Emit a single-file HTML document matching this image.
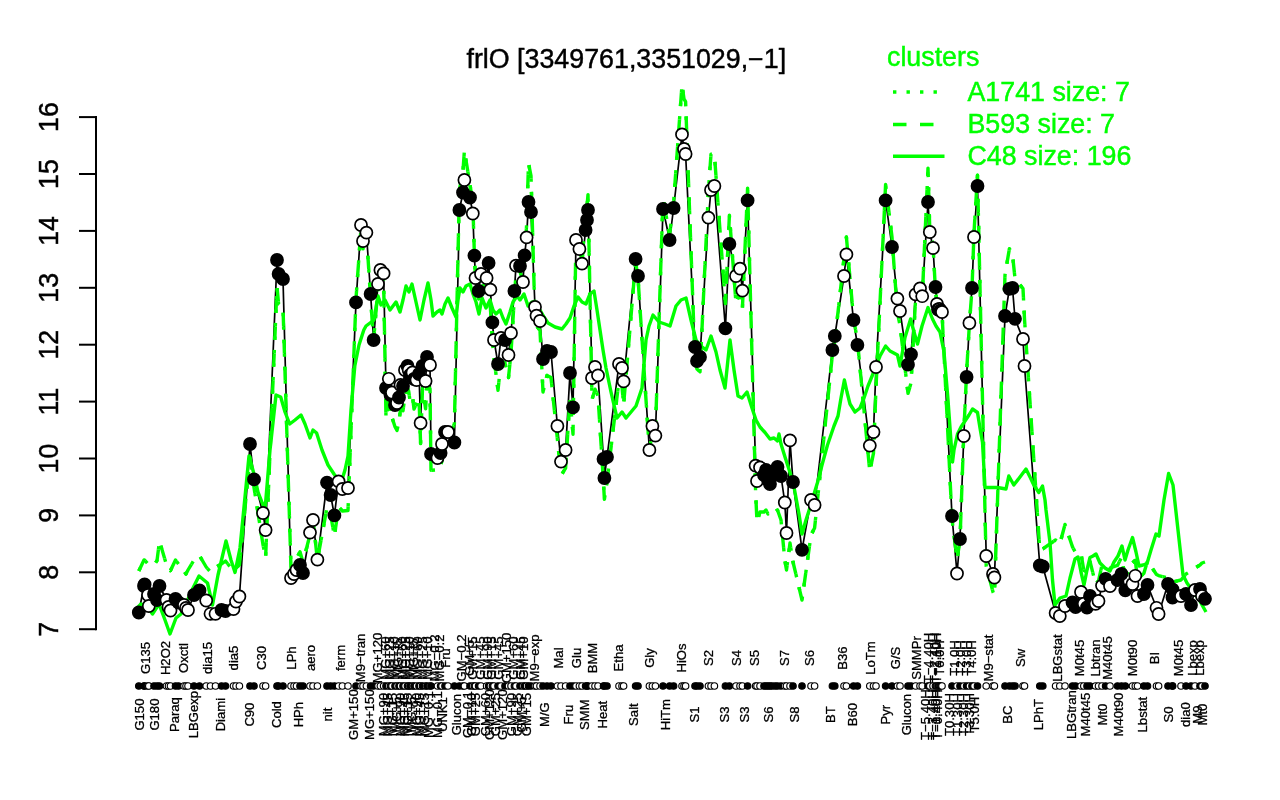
<!DOCTYPE html>
<html><head><meta charset="utf-8"><title>frlO</title>
<style>html,body{margin:0;padding:0;background:#fff;overflow:hidden}</style></head>
<body>
<svg width="1280" height="800" viewBox="0 0 1280 800" style="display:block;font-family:'Liberation Sans',sans-serif">
<rect width="1280" height="800" fill="#fff"/>
<polyline fill="none" stroke="#000" stroke-width="1.7" stroke-linejoin="round" points="138.8,612.5 144.0,586.0 144.6,584.5 148.0,595.0 148.8,606.0 154.0,594.0 157.0,600.0 159.5,586.0 166.5,600.0 168.5,607.0 170.5,610.5 175.5,599.0 178.5,602.5 184.0,605.0 186.0,608.0 188.0,610.0 194.0,595.0 199.5,590.5 206.2,600.5 210.5,613.8 215.5,613.8 221.5,610.0 225.5,611.0 233.5,609.0 236.0,601.5 239.4,596.5 250.0,444.0 254.0,479.4 263.0,513.0 265.6,530.0 277.0,260.0 278.6,274.0 283.0,279.0 291.0,578.0 294.0,574.0 296.5,570.0 300.0,565.0 303.0,573.0 310.0,532.6 313.0,520.0 317.4,559.6 327.0,482.6 330.6,495.0 334.4,515.4 338.6,481.4 342.4,489.0 348.0,488.0 356.0,302.4 361.0,225.0 363.0,241.0 366.4,232.6 370.6,294.0 373.6,340.0 378.0,284.0 380.4,270.0 383.6,273.4 386.0,388.0 388.8,378.8 390.5,395.0 392.0,392.5 395.0,405.0 397.0,403.0 399.0,397.5 400.5,385.0 403.0,386.0 405.0,370.0 407.5,366.0 408.7,370.0 410.0,375.0 412.5,372.5 414.0,379.0 416.5,380.0 419.0,374.0 420.6,423.0 422.5,366.0 425.6,381.0 427.0,357.0 430.0,365.0 431.0,454.0 437.5,458.0 440.6,453.0 442.0,444.0 445.0,432.0 448.0,432.0 454.4,442.5 459.4,210.0 463.0,192.5 464.4,180.0 470.0,197.5 472.8,213.5 474.4,255.6 475.5,278.0 478.6,291.0 481.0,274.0 486.6,278.0 488.6,263.0 490.4,289.6 492.4,322.4 494.0,340.0 498.0,364.0 501.0,338.0 505.0,340.0 508.5,355.0 511.0,333.0 514.4,291.0 516.0,265.6 520.0,266.0 523.0,282.0 524.6,255.4 526.6,237.4 528.5,202.0 531.0,212.0 535.0,307.0 536.5,315.6 540.0,321.0 543.0,359.0 547.0,351.0 551.0,352.0 557.4,426.0 561.0,461.6 565.6,450.0 570.0,373.0 573.0,407.4 576.0,240.0 579.4,249.0 582.0,263.6 585.6,230.0 587.0,220.0 588.0,210.0 592.0,378.0 595.0,367.0 598.0,375.4 603.5,459.0 604.4,478.0 607.0,457.0 619.0,364.0 622.0,368.0 623.6,381.4 635.6,259.0 638.0,276.0 649.4,450.0 652.4,426.0 655.4,435.6 663.0,209.0 669.6,240.0 673.6,208.0 682.0,134.4 684.0,149.0 685.6,154.0 695.0,347.0 697.0,361.0 700.0,357.0 708.4,217.6 711.0,190.0 714.4,186.0 725.4,328.4 729.4,244.0 736.0,276.0 740.0,268.6 742.4,290.6 747.6,200.4 755.6,465.6 757.0,481.0 760.0,467.5 764.0,475.0 766.0,470.0 768.0,480.0 770.0,484.0 772.0,476.0 775.0,472.0 777.5,467.0 781.0,476.0 784.8,502.5 786.5,533.0 790.0,440.4 793.0,482.0 802.0,549.8 811.0,500.0 814.6,505.0 832.4,350.0 834.8,336.0 844.0,276.0 846.4,254.4 853.5,320.0 857.4,345.0 869.8,445.6 873.5,432.0 876.0,367.0 885.6,200.4 892.0,247.0 897.4,298.6 900.0,311.0 908.0,364.7 911.0,354.5 915.6,294.4 920.0,288.5 922.2,296.2 928.0,202.0 929.8,232.0 933.0,248.0 935.5,287.0 937.0,304.0 938.0,309.5 939.5,309.0 940.5,310.5 942.0,312.0 952.0,516.0 957.0,573.5 960.0,539.0 963.8,436.0 966.6,377.0 969.4,323.0 972.0,288.0 974.0,237.0 977.5,186.0 986.2,556.0 993.0,574.0 994.4,577.5 1005.0,316.0 1009.4,288.8 1012.5,288.0 1015.0,318.8 1023.0,339.0 1024.5,366.0 1039.8,565.5 1042.8,566.5 1055.6,613.0 1059.8,616.0 1065.0,606.0 1072.5,602.5 1075.6,607.0 1081.0,592.0 1083.8,603.8 1087.0,607.5 1090.0,596.0 1095.6,603.8 1098.5,601.0 1102.0,585.6 1105.6,578.8 1110.0,586.0 1117.5,580.0 1121.5,573.8 1125.3,590.3 1132.5,584.0 1135.3,575.8 1137.5,596.0 1143.9,594.0 1147.5,585.0 1156.5,607.8 1158.6,614.0 1168.0,584.0 1172.5,589.5 1172.5,597.5 1181.0,596.0 1186.0,594.0 1191.0,605.0 1195.0,590.0 1200.0,589.0 1202.0,596.0 1205.0,598.8"/>
<polyline fill="none" stroke="#00ff00" stroke-width="3.4" stroke-linejoin="round" stroke-dasharray="3.4 10.1" points="138.8,571.0 144.0,560.0 144.6,560.0 148.0,564.0 148.8,564.0 154.0,565.0 157.0,560.6 159.5,541.0 166.5,565.0 168.5,567.0 170.5,570.6 175.5,560.0 178.5,564.0 184.0,571.0 186.0,574.0 188.0,570.0 194.0,560.0 199.5,555.6 206.2,567.0 210.5,572.0 215.5,567.5 221.5,564.0 225.5,561.0 233.5,571.0 236.0,568.0 239.4,565.0 250.0,457.3 254.0,487.5 263.0,544.7 265.6,557.6 277.0,287.0 278.6,303.8 283.0,307.0 291.0,568.3 294.0,564.3 296.5,558.8 300.0,551.8 303.0,562.4 310.0,534.5 313.0,519.1 317.4,560.1 327.0,507.4 330.6,514.7 334.4,536.1 338.6,506.8 342.4,511.0 348.0,510.5 356.0,298.6 361.0,228.3 363.0,248.9 366.4,233.4 370.6,297.9 373.6,340.8 378.0,287.1 380.4,279.3 383.6,279.2 386.0,418.3 388.8,402.6 390.5,417.9 392.0,417.4 395.0,426.8 397.0,430.5 399.0,421.1 400.5,409.6 403.0,410.8 405.0,396.1 407.5,388.1 408.7,391.1 410.0,400.9 412.5,396.4 414.0,409.1 416.5,403.5 419.0,398.1 420.6,443.6 422.5,388.3 425.6,408.8 427.0,383.8 430.0,388.9 431.0,470.3 437.5,469.8 440.6,467.8 442.0,459.3 445.0,447.9 448.0,440.6 454.4,423.5 459.4,189.8 463.0,170.9 464.4,150.6 470.0,184.7 472.8,202.6 474.4,255.1 475.5,279.8 478.6,299.1 481.0,281.7 486.6,291.6 488.6,275.2 490.4,308.1 492.4,341.2 494.0,358.1 498.0,390.3 501.0,361.2 505.0,362.7 508.5,377.6 511.0,353.1 514.4,295.8 516.0,273.7 520.0,271.1 523.0,282.8 524.6,256.7 526.6,225.3 528.5,163.2 531.0,175.9 535.0,318.2 536.5,325.8 540.0,330.6 543.0,392.0 547.0,375.4 551.0,377.6 557.4,439.2 561.0,475.6 565.6,468.2 570.0,396.8 573.0,434.2 576.0,232.9 579.4,247.8 582.0,262.3 585.6,215.9 587.0,206.4 588.0,194.6 592.0,399.7 595.0,389.2 598.0,396.0 603.5,483.0 604.4,499.3 607.0,481.8 619.0,380.1 622.0,386.7 623.6,404.9 635.6,261.5 638.0,277.6 649.4,451.4 652.4,429.9 655.4,432.0 663.0,198.3 669.6,234.7 673.6,202.5 682.0,84.6 684.0,99.0 685.6,101.6 695.0,360.8 697.0,369.0 700.0,371.8 708.4,191.2 711.0,154.1 714.4,154.4 725.4,303.6 729.4,215.1 736.0,303.6 740.0,291.1 742.4,308.5 747.6,188.1 755.6,492.0 757.0,522.0 760.0,512.0 764.0,512.0 766.0,510.0 768.0,514.0 770.0,512.0 772.0,510.0 775.0,512.0 777.5,510.0 781.0,520.0 784.8,560.0 786.5,570.0 790.0,543.0 793.0,562.0 802.0,600.0 811.0,535.0 814.6,528.0 832.4,354.8 834.8,340.8 844.0,258.3 846.4,237.0 853.5,318.0 857.4,340.3 869.8,471.7 873.5,453.1 876.0,387.6 885.6,184.4 892.0,237.0 897.4,312.8 900.0,325.2 908.0,393.4 911.0,383.1 915.6,298.8 920.0,290.1 922.2,298.5 928.0,168.1 929.8,230.4 933.0,244.9 935.5,291.3 937.0,302.4 938.0,305.3 939.5,306.1 940.5,307.9 942.0,312.2 952.0,519.3 957.0,559.2 960.0,540.7 963.8,432.9 966.6,372.2 969.4,324.1 972.0,289.0 974.0,232.4 977.5,175.2 986.2,566.0 993.0,592.0 994.4,595.0 1005.0,274.9 1009.4,248.6 1012.5,254.6 1015.0,278.4 1023.0,288.6 1024.5,318.9 1039.8,550.0 1042.8,548.9 1055.6,540.0 1059.8,544.2 1065.0,524.4 1072.5,546.9 1075.6,552.7 1081.0,553.4 1083.8,570.3 1087.0,572.4 1090.0,561.4 1095.6,583.9 1098.5,580.8 1102.0,565.0 1105.6,564.3 1110.0,568.0 1117.5,565.4 1121.5,557.5 1125.3,577.0 1132.5,562.7 1135.3,560.2 1137.5,579.4 1143.9,573.2 1147.5,560.9 1156.5,574.5 1158.6,575.6 1168.0,578.0 1172.5,582.0 1172.5,582.0 1181.0,580.0 1186.0,574.0 1191.0,571.0 1195.0,568.0 1200.0,565.0 1202.0,563.0 1205.0,562.0"/>
<polyline fill="none" stroke="#00ff00" stroke-width="3.4" stroke-linejoin="round" stroke-dasharray="13.5 13.5" points="138.8,571.0 144.0,560.0 144.6,560.0 148.0,564.0 148.8,564.0 154.0,565.0 157.0,560.6 159.5,541.0 166.5,565.0 168.5,567.0 170.5,570.6 175.5,560.0 178.5,564.0 184.0,571.0 186.0,574.0 188.0,570.0 194.0,560.0 199.5,555.6 206.2,567.0 210.5,572.0 215.5,567.5 221.5,564.0 225.5,561.0 233.5,571.0 236.0,568.0 239.4,565.0 250.0,457.3 254.0,487.5 263.0,544.7 265.6,557.6 277.0,287.0 278.6,303.8 283.0,307.0 291.0,568.3 294.0,564.3 296.5,558.8 300.0,551.8 303.0,562.4 310.0,534.5 313.0,519.1 317.4,560.1 327.0,507.4 330.6,514.7 334.4,536.1 338.6,506.8 342.4,511.0 348.0,510.5 356.0,298.6 361.0,228.3 363.0,248.9 366.4,233.4 370.6,297.9 373.6,340.8 378.0,287.1 380.4,279.3 383.6,279.2 386.0,418.3 388.8,402.6 390.5,417.9 392.0,417.4 395.0,426.8 397.0,430.5 399.0,421.1 400.5,409.6 403.0,410.8 405.0,396.1 407.5,388.1 408.7,391.1 410.0,400.9 412.5,396.4 414.0,409.1 416.5,403.5 419.0,398.1 420.6,443.6 422.5,388.3 425.6,408.8 427.0,383.8 430.0,388.9 431.0,470.3 437.5,469.8 440.6,467.8 442.0,459.3 445.0,447.9 448.0,440.6 454.4,423.5 459.4,189.8 463.0,170.9 464.4,150.6 470.0,184.7 472.8,202.6 474.4,255.1 475.5,279.8 478.6,299.1 481.0,281.7 486.6,291.6 488.6,275.2 490.4,308.1 492.4,341.2 494.0,358.1 498.0,390.3 501.0,361.2 505.0,362.7 508.5,377.6 511.0,353.1 514.4,295.8 516.0,273.7 520.0,271.1 523.0,282.8 524.6,256.7 526.6,225.3 528.5,163.2 531.0,175.9 535.0,318.2 536.5,325.8 540.0,330.6 543.0,392.0 547.0,375.4 551.0,377.6 557.4,439.2 561.0,475.6 565.6,468.2 570.0,396.8 573.0,434.2 576.0,232.9 579.4,247.8 582.0,262.3 585.6,215.9 587.0,206.4 588.0,194.6 592.0,399.7 595.0,389.2 598.0,396.0 603.5,483.0 604.4,499.3 607.0,481.8 619.0,380.1 622.0,386.7 623.6,404.9 635.6,261.5 638.0,277.6 649.4,451.4 652.4,429.9 655.4,432.0 663.0,198.3 669.6,234.7 673.6,202.5 682.0,84.6 684.0,99.0 685.6,101.6 695.0,360.8 697.0,369.0 700.0,371.8 708.4,191.2 711.0,154.1 714.4,154.4 725.4,303.6 729.4,215.1 736.0,303.6 740.0,291.1 742.4,308.5 747.6,188.1 755.6,492.0 757.0,522.0 760.0,512.0 764.0,512.0 766.0,510.0 768.0,514.0 770.0,512.0 772.0,510.0 775.0,512.0 777.5,510.0 781.0,520.0 784.8,560.0 786.5,570.0 790.0,543.0 793.0,562.0 802.0,600.0 811.0,535.0 814.6,528.0 832.4,354.8 834.8,340.8 844.0,258.3 846.4,237.0 853.5,318.0 857.4,340.3 869.8,471.7 873.5,453.1 876.0,387.6 885.6,184.4 892.0,237.0 897.4,312.8 900.0,325.2 908.0,393.4 911.0,383.1 915.6,298.8 920.0,290.1 922.2,298.5 928.0,168.1 929.8,230.4 933.0,244.9 935.5,291.3 937.0,302.4 938.0,305.3 939.5,306.1 940.5,307.9 942.0,312.2 952.0,519.3 957.0,559.2 960.0,540.7 963.8,432.9 966.6,372.2 969.4,324.1 972.0,289.0 974.0,232.4 977.5,175.2 986.2,566.0 993.0,592.0 994.4,595.0 1005.0,274.9 1009.4,248.6 1012.5,254.6 1015.0,278.4 1023.0,288.6 1024.5,318.9 1039.8,550.0 1042.8,548.9 1055.6,540.0 1059.8,544.2 1065.0,524.4 1072.5,546.9 1075.6,552.7 1081.0,553.4 1083.8,570.3 1087.0,572.4 1090.0,561.4 1095.6,583.9 1098.5,580.8 1102.0,565.0 1105.6,564.3 1110.0,568.0 1117.5,565.4 1121.5,557.5 1125.3,577.0 1132.5,562.7 1135.3,560.2 1137.5,579.4 1143.9,573.2 1147.5,560.9 1156.5,574.5 1158.6,575.6 1168.0,578.0 1172.5,582.0 1172.5,582.0 1181.0,580.0 1186.0,574.0 1191.0,571.0 1195.0,568.0 1200.0,565.0 1202.0,563.0 1205.0,562.0"/>
<polyline fill="none" stroke="#00ff00" stroke-width="3.4" stroke-linejoin="round" points="137.0,608.0 141.0,604.0 147.0,606.0 152.5,614.0 159.0,604.0 165.0,620.0 170.0,634.0 176.0,618.0 181.0,614.0 186.0,604.0 192.0,590.0 199.0,576.0 207.5,583.0 212.5,605.0 218.0,575.0 226.0,541.0 231.0,560.0 235.0,572.5 240.0,548.0 249.0,456.0 254.0,474.0 258.0,492.0 265.0,510.0 270.0,450.0 276.0,395.0 280.7,397.0 285.0,412.0 289.7,424.0 295.0,420.0 301.0,415.0 305.0,424.0 310.0,438.0 313.0,430.0 316.6,433.0 322.0,450.0 328.0,465.0 334.0,474.0 341.0,483.0 345.0,470.0 348.0,456.0 351.0,410.0 354.8,366.0 359.0,345.0 363.8,330.0 366.0,326.0 370.0,323.0 374.0,320.0 378.0,296.0 381.0,305.0 385.0,300.0 390.0,310.0 393.0,306.0 396.0,302.0 400.0,312.0 403.0,300.0 406.0,286.0 409.0,292.0 412.0,284.0 416.0,302.0 420.0,320.0 424.0,300.0 428.0,283.0 431.0,300.0 433.0,316.0 437.0,312.0 440.0,310.0 442.0,314.0 445.0,304.0 448.0,298.0 452.0,308.0 456.0,317.0 458.0,300.0 460.0,288.0 463.0,292.0 466.0,286.0 470.0,284.0 473.0,294.0 476.0,302.0 479.0,314.0 482.0,298.0 486.0,308.0 490.0,300.0 493.0,310.0 496.0,314.0 500.0,310.0 503.0,318.0 506.0,324.0 510.0,312.0 513.0,302.0 517.0,296.0 520.0,300.0 524.0,294.0 528.0,306.0 532.0,302.0 536.0,305.0 540.0,310.0 544.0,317.0 548.0,323.0 555.0,327.0 562.0,329.0 566.0,324.0 570.0,318.0 574.0,306.0 578.0,297.0 582.0,302.0 586.0,304.0 590.0,294.0 594.0,291.0 597.0,310.0 600.0,330.0 603.0,350.0 606.0,368.0 611.0,392.0 617.0,418.0 622.0,412.0 626.0,418.0 631.0,412.0 636.0,406.0 642.0,388.0 646.0,340.0 649.0,326.0 653.0,315.0 659.0,322.0 665.0,324.0 670.0,326.0 676.0,306.0 681.0,300.0 686.0,298.0 691.0,320.0 696.0,340.0 701.0,346.0 706.0,350.0 711.0,336.0 716.0,352.0 720.0,370.0 725.0,388.0 730.0,340.0 734.0,370.0 738.0,396.0 742.0,398.0 747.0,392.0 752.0,408.0 756.0,420.0 760.0,427.0 765.0,432.5 770.0,439.0 774.0,438.0 777.5,441.0 779.0,434.0 781.0,444.0 785.0,457.0 790.0,472.5 794.0,487.0 799.0,514.0 802.0,534.0 806.0,520.0 810.0,507.5 817.5,482.5 822.0,465.0 827.5,445.0 834.0,426.0 838.0,416.0 841.0,398.0 844.4,380.0 847.0,392.0 850.0,404.0 855.0,412.0 860.0,408.0 864.0,398.0 868.0,386.0 872.5,375.0 876.0,366.0 880.0,356.0 885.6,346.0 890.0,351.0 897.5,355.0 900.0,366.0 905.0,337.5 910.6,319.0 914.0,332.0 917.5,344.0 922.0,326.0 928.0,307.5 932.5,319.0 936.0,326.0 940.0,332.0 944.0,352.0 948.0,400.0 952.5,462.0 954.0,450.0 957.5,434.0 961.0,427.0 965.0,421.0 969.0,415.0 972.5,409.0 977.5,412.5 980.0,428.0 982.5,442.5 985.0,487.5 997.5,487.5 1006.0,489.0 1008.8,476.0 1013.8,485.0 1020.0,477.0 1026.0,469.0 1030.0,477.0 1033.8,485.0 1038.8,492.5 1042.5,486.0 1045.0,500.0 1046.0,510.0 1050.0,542.5 1052.5,580.0 1055.0,605.0 1060.0,598.0 1066.0,596.0 1070.0,578.0 1075.0,559.0 1078.0,557.0 1081.0,572.0 1084.0,585.0 1087.0,570.0 1090.0,557.5 1093.0,556.0 1096.0,554.0 1100.0,563.0 1105.0,568.0 1110.0,571.0 1114.0,562.0 1118.0,556.0 1122.0,546.0 1125.0,560.0 1128.0,550.0 1132.5,537.5 1136.0,552.0 1139.0,566.0 1143.0,565.0 1147.0,563.5 1151.0,550.0 1156.0,534.0 1159.0,536.0 1164.0,500.0 1168.6,473.5 1173.0,485.0 1178.0,530.0 1183.0,575.0 1187.0,583.0 1192.0,590.0 1199.0,599.5 1206.0,612.0"/>
<g stroke="#000" stroke-width="1.7">
<circle cx="138.8" cy="612.5" r="6.05" fill="#000"/>
<circle cx="144.0" cy="586.0" r="6.05" fill="#000"/>
<circle cx="144.6" cy="584.5" r="6.05" fill="#000"/>
<circle cx="148.0" cy="595.0" r="6.05" fill="#fff"/>
<circle cx="148.8" cy="606.0" r="6.05" fill="#fff"/>
<circle cx="154.0" cy="594.0" r="6.05" fill="#000"/>
<circle cx="157.0" cy="600.0" r="6.05" fill="#000"/>
<circle cx="159.5" cy="586.0" r="6.05" fill="#000"/>
<circle cx="166.5" cy="600.0" r="6.05" fill="#fff"/>
<circle cx="168.5" cy="607.0" r="6.05" fill="#fff"/>
<circle cx="170.5" cy="610.5" r="6.05" fill="#fff"/>
<circle cx="175.5" cy="599.0" r="6.05" fill="#000"/>
<circle cx="178.5" cy="602.5" r="6.05" fill="#000"/>
<circle cx="184.0" cy="605.0" r="6.05" fill="#fff"/>
<circle cx="186.0" cy="608.0" r="6.05" fill="#fff"/>
<circle cx="188.0" cy="610.0" r="6.05" fill="#fff"/>
<circle cx="194.0" cy="595.0" r="6.05" fill="#000"/>
<circle cx="199.5" cy="590.5" r="6.05" fill="#000"/>
<circle cx="206.2" cy="600.5" r="6.05" fill="#fff"/>
<circle cx="210.5" cy="613.8" r="6.05" fill="#fff"/>
<circle cx="215.5" cy="613.8" r="6.05" fill="#fff"/>
<circle cx="221.5" cy="610.0" r="6.05" fill="#000"/>
<circle cx="225.5" cy="611.0" r="6.05" fill="#000"/>
<circle cx="233.5" cy="609.0" r="6.05" fill="#fff"/>
<circle cx="236.0" cy="601.5" r="6.05" fill="#fff"/>
<circle cx="239.4" cy="596.5" r="6.05" fill="#fff"/>
<circle cx="250.0" cy="444.0" r="6.05" fill="#000"/>
<circle cx="254.0" cy="479.4" r="6.05" fill="#000"/>
<circle cx="263.0" cy="513.0" r="6.05" fill="#fff"/>
<circle cx="265.6" cy="530.0" r="6.05" fill="#fff"/>
<circle cx="277.0" cy="260.0" r="6.05" fill="#000"/>
<circle cx="278.6" cy="274.0" r="6.05" fill="#000"/>
<circle cx="283.0" cy="279.0" r="6.05" fill="#000"/>
<circle cx="291.0" cy="578.0" r="6.05" fill="#fff"/>
<circle cx="294.0" cy="574.0" r="6.05" fill="#fff"/>
<circle cx="296.5" cy="570.0" r="6.05" fill="#fff"/>
<circle cx="300.0" cy="565.0" r="6.05" fill="#000"/>
<circle cx="303.0" cy="573.0" r="6.05" fill="#000"/>
<circle cx="310.0" cy="532.6" r="6.05" fill="#fff"/>
<circle cx="313.0" cy="520.0" r="6.05" fill="#fff"/>
<circle cx="317.4" cy="559.6" r="6.05" fill="#fff"/>
<circle cx="327.0" cy="482.6" r="6.05" fill="#000"/>
<circle cx="330.6" cy="495.0" r="6.05" fill="#000"/>
<circle cx="334.4" cy="515.4" r="6.05" fill="#000"/>
<circle cx="338.6" cy="481.4" r="6.05" fill="#fff"/>
<circle cx="342.4" cy="489.0" r="6.05" fill="#fff"/>
<circle cx="348.0" cy="488.0" r="6.05" fill="#fff"/>
<circle cx="356.0" cy="302.4" r="6.05" fill="#000"/>
<circle cx="361.0" cy="225.0" r="6.05" fill="#fff"/>
<circle cx="363.0" cy="241.0" r="6.05" fill="#fff"/>
<circle cx="366.4" cy="232.6" r="6.05" fill="#fff"/>
<circle cx="370.6" cy="294.0" r="6.05" fill="#000"/>
<circle cx="373.6" cy="340.0" r="6.05" fill="#000"/>
<circle cx="378.0" cy="284.0" r="6.05" fill="#fff"/>
<circle cx="380.4" cy="270.0" r="6.05" fill="#fff"/>
<circle cx="383.6" cy="273.4" r="6.05" fill="#fff"/>
<circle cx="386.0" cy="388.0" r="6.05" fill="#000"/>
<circle cx="388.8" cy="378.8" r="6.05" fill="#fff"/>
<circle cx="390.5" cy="395.0" r="6.05" fill="#000"/>
<circle cx="392.0" cy="392.5" r="6.05" fill="#fff"/>
<circle cx="395.0" cy="405.0" r="6.05" fill="#000"/>
<circle cx="397.0" cy="403.0" r="6.05" fill="#fff"/>
<circle cx="399.0" cy="397.5" r="6.05" fill="#000"/>
<circle cx="400.5" cy="385.0" r="6.05" fill="#fff"/>
<circle cx="403.0" cy="386.0" r="6.05" fill="#000"/>
<circle cx="405.0" cy="370.0" r="6.05" fill="#fff"/>
<circle cx="407.5" cy="366.0" r="6.05" fill="#000"/>
<circle cx="408.7" cy="370.0" r="6.05" fill="#fff"/>
<circle cx="410.0" cy="375.0" r="6.05" fill="#000"/>
<circle cx="412.5" cy="372.5" r="6.05" fill="#fff"/>
<circle cx="414.0" cy="379.0" r="6.05" fill="#000"/>
<circle cx="416.5" cy="380.0" r="6.05" fill="#fff"/>
<circle cx="419.0" cy="374.0" r="6.05" fill="#000"/>
<circle cx="420.6" cy="423.0" r="6.05" fill="#fff"/>
<circle cx="422.5" cy="366.0" r="6.05" fill="#000"/>
<circle cx="425.6" cy="381.0" r="6.05" fill="#fff"/>
<circle cx="427.0" cy="357.0" r="6.05" fill="#000"/>
<circle cx="430.0" cy="365.0" r="6.05" fill="#fff"/>
<circle cx="431.0" cy="454.0" r="6.05" fill="#000"/>
<circle cx="437.5" cy="458.0" r="6.05" fill="#fff"/>
<circle cx="440.6" cy="453.0" r="6.05" fill="#000"/>
<circle cx="442.0" cy="444.0" r="6.05" fill="#fff"/>
<circle cx="445.0" cy="432.0" r="6.05" fill="#000"/>
<circle cx="448.0" cy="432.0" r="6.05" fill="#fff"/>
<circle cx="454.4" cy="442.5" r="6.05" fill="#000"/>
<circle cx="459.4" cy="210.0" r="6.05" fill="#000"/>
<circle cx="463.0" cy="192.5" r="6.05" fill="#000"/>
<circle cx="464.4" cy="180.0" r="6.05" fill="#fff"/>
<circle cx="470.0" cy="197.5" r="6.05" fill="#000"/>
<circle cx="472.8" cy="213.5" r="6.05" fill="#fff"/>
<circle cx="474.4" cy="255.6" r="6.05" fill="#000"/>
<circle cx="475.5" cy="278.0" r="6.05" fill="#fff"/>
<circle cx="478.6" cy="291.0" r="6.05" fill="#000"/>
<circle cx="481.0" cy="274.0" r="6.05" fill="#fff"/>
<circle cx="486.6" cy="278.0" r="6.05" fill="#fff"/>
<circle cx="488.6" cy="263.0" r="6.05" fill="#000"/>
<circle cx="490.4" cy="289.6" r="6.05" fill="#fff"/>
<circle cx="492.4" cy="322.4" r="6.05" fill="#000"/>
<circle cx="494.0" cy="340.0" r="6.05" fill="#fff"/>
<circle cx="498.0" cy="364.0" r="6.05" fill="#000"/>
<circle cx="501.0" cy="338.0" r="6.05" fill="#fff"/>
<circle cx="505.0" cy="340.0" r="6.05" fill="#000"/>
<circle cx="508.5" cy="355.0" r="6.05" fill="#fff"/>
<circle cx="511.0" cy="333.0" r="6.05" fill="#fff"/>
<circle cx="514.4" cy="291.0" r="6.05" fill="#000"/>
<circle cx="516.0" cy="265.6" r="6.05" fill="#fff"/>
<circle cx="520.0" cy="266.0" r="6.05" fill="#000"/>
<circle cx="523.0" cy="282.0" r="6.05" fill="#fff"/>
<circle cx="524.6" cy="255.4" r="6.05" fill="#000"/>
<circle cx="526.6" cy="237.4" r="6.05" fill="#fff"/>
<circle cx="528.5" cy="202.0" r="6.05" fill="#000"/>
<circle cx="531.0" cy="212.0" r="6.05" fill="#000"/>
<circle cx="535.0" cy="307.0" r="6.05" fill="#fff"/>
<circle cx="536.5" cy="315.6" r="6.05" fill="#fff"/>
<circle cx="540.0" cy="321.0" r="6.05" fill="#fff"/>
<circle cx="543.0" cy="359.0" r="6.05" fill="#000"/>
<circle cx="547.0" cy="351.0" r="6.05" fill="#000"/>
<circle cx="551.0" cy="352.0" r="6.05" fill="#000"/>
<circle cx="557.4" cy="426.0" r="6.05" fill="#fff"/>
<circle cx="561.0" cy="461.6" r="6.05" fill="#fff"/>
<circle cx="565.6" cy="450.0" r="6.05" fill="#fff"/>
<circle cx="570.0" cy="373.0" r="6.05" fill="#000"/>
<circle cx="573.0" cy="407.4" r="6.05" fill="#000"/>
<circle cx="576.0" cy="240.0" r="6.05" fill="#fff"/>
<circle cx="579.4" cy="249.0" r="6.05" fill="#fff"/>
<circle cx="582.0" cy="263.6" r="6.05" fill="#fff"/>
<circle cx="585.6" cy="230.0" r="6.05" fill="#000"/>
<circle cx="587.0" cy="220.0" r="6.05" fill="#000"/>
<circle cx="588.0" cy="210.0" r="6.05" fill="#000"/>
<circle cx="592.0" cy="378.0" r="6.05" fill="#fff"/>
<circle cx="595.0" cy="367.0" r="6.05" fill="#fff"/>
<circle cx="598.0" cy="375.4" r="6.05" fill="#fff"/>
<circle cx="603.5" cy="459.0" r="6.05" fill="#000"/>
<circle cx="604.4" cy="478.0" r="6.05" fill="#000"/>
<circle cx="607.0" cy="457.0" r="6.05" fill="#000"/>
<circle cx="619.0" cy="364.0" r="6.05" fill="#fff"/>
<circle cx="622.0" cy="368.0" r="6.05" fill="#fff"/>
<circle cx="623.6" cy="381.4" r="6.05" fill="#fff"/>
<circle cx="635.6" cy="259.0" r="6.05" fill="#000"/>
<circle cx="638.0" cy="276.0" r="6.05" fill="#000"/>
<circle cx="649.4" cy="450.0" r="6.05" fill="#fff"/>
<circle cx="652.4" cy="426.0" r="6.05" fill="#fff"/>
<circle cx="655.4" cy="435.6" r="6.05" fill="#fff"/>
<circle cx="663.0" cy="209.0" r="6.05" fill="#000"/>
<circle cx="669.6" cy="240.0" r="6.05" fill="#000"/>
<circle cx="673.6" cy="208.0" r="6.05" fill="#000"/>
<circle cx="682.0" cy="134.4" r="6.05" fill="#fff"/>
<circle cx="684.0" cy="149.0" r="6.05" fill="#fff"/>
<circle cx="685.6" cy="154.0" r="6.05" fill="#fff"/>
<circle cx="695.0" cy="347.0" r="6.05" fill="#000"/>
<circle cx="697.0" cy="361.0" r="6.05" fill="#000"/>
<circle cx="700.0" cy="357.0" r="6.05" fill="#000"/>
<circle cx="708.4" cy="217.6" r="6.05" fill="#fff"/>
<circle cx="711.0" cy="190.0" r="6.05" fill="#fff"/>
<circle cx="714.4" cy="186.0" r="6.05" fill="#fff"/>
<circle cx="725.4" cy="328.4" r="6.05" fill="#000"/>
<circle cx="729.4" cy="244.0" r="6.05" fill="#000"/>
<circle cx="736.0" cy="276.0" r="6.05" fill="#fff"/>
<circle cx="740.0" cy="268.6" r="6.05" fill="#fff"/>
<circle cx="742.4" cy="290.6" r="6.05" fill="#fff"/>
<circle cx="747.6" cy="200.4" r="6.05" fill="#000"/>
<circle cx="755.6" cy="465.6" r="6.05" fill="#fff"/>
<circle cx="757.0" cy="481.0" r="6.05" fill="#fff"/>
<circle cx="760.0" cy="467.5" r="6.05" fill="#fff"/>
<circle cx="764.0" cy="475.0" r="6.05" fill="#000"/>
<circle cx="766.0" cy="470.0" r="6.05" fill="#000"/>
<circle cx="768.0" cy="480.0" r="6.05" fill="#000"/>
<circle cx="770.0" cy="484.0" r="6.05" fill="#000"/>
<circle cx="772.0" cy="476.0" r="6.05" fill="#000"/>
<circle cx="775.0" cy="472.0" r="6.05" fill="#000"/>
<circle cx="777.5" cy="467.0" r="6.05" fill="#000"/>
<circle cx="781.0" cy="476.0" r="6.05" fill="#000"/>
<circle cx="784.8" cy="502.5" r="6.05" fill="#fff"/>
<circle cx="786.5" cy="533.0" r="6.05" fill="#fff"/>
<circle cx="790.0" cy="440.4" r="6.05" fill="#fff"/>
<circle cx="793.0" cy="482.0" r="6.05" fill="#000"/>
<circle cx="802.0" cy="549.8" r="6.05" fill="#000"/>
<circle cx="811.0" cy="500.0" r="6.05" fill="#fff"/>
<circle cx="814.6" cy="505.0" r="6.05" fill="#fff"/>
<circle cx="832.4" cy="350.0" r="6.05" fill="#000"/>
<circle cx="834.8" cy="336.0" r="6.05" fill="#000"/>
<circle cx="844.0" cy="276.0" r="6.05" fill="#fff"/>
<circle cx="846.4" cy="254.4" r="6.05" fill="#fff"/>
<circle cx="853.5" cy="320.0" r="6.05" fill="#000"/>
<circle cx="857.4" cy="345.0" r="6.05" fill="#000"/>
<circle cx="869.8" cy="445.6" r="6.05" fill="#fff"/>
<circle cx="873.5" cy="432.0" r="6.05" fill="#fff"/>
<circle cx="876.0" cy="367.0" r="6.05" fill="#fff"/>
<circle cx="885.6" cy="200.4" r="6.05" fill="#000"/>
<circle cx="892.0" cy="247.0" r="6.05" fill="#000"/>
<circle cx="897.4" cy="298.6" r="6.05" fill="#fff"/>
<circle cx="900.0" cy="311.0" r="6.05" fill="#fff"/>
<circle cx="908.0" cy="364.7" r="6.05" fill="#000"/>
<circle cx="911.0" cy="354.5" r="6.05" fill="#000"/>
<circle cx="915.6" cy="294.4" r="6.05" fill="#fff"/>
<circle cx="920.0" cy="288.5" r="6.05" fill="#fff"/>
<circle cx="922.2" cy="296.2" r="6.05" fill="#fff"/>
<circle cx="928.0" cy="202.0" r="6.05" fill="#000"/>
<circle cx="929.8" cy="232.0" r="6.05" fill="#fff"/>
<circle cx="933.0" cy="248.0" r="6.05" fill="#fff"/>
<circle cx="935.5" cy="287.0" r="6.05" fill="#000"/>
<circle cx="937.0" cy="304.0" r="6.05" fill="#fff"/>
<circle cx="938.0" cy="309.5" r="6.05" fill="#000"/>
<circle cx="939.5" cy="309.0" r="6.05" fill="#fff"/>
<circle cx="940.5" cy="310.5" r="6.05" fill="#000"/>
<circle cx="942.0" cy="312.0" r="6.05" fill="#fff"/>
<circle cx="952.0" cy="516.0" r="6.05" fill="#000"/>
<circle cx="957.0" cy="573.5" r="6.05" fill="#fff"/>
<circle cx="960.0" cy="539.0" r="6.05" fill="#000"/>
<circle cx="963.8" cy="436.0" r="6.05" fill="#fff"/>
<circle cx="966.6" cy="377.0" r="6.05" fill="#000"/>
<circle cx="969.4" cy="323.0" r="6.05" fill="#fff"/>
<circle cx="972.0" cy="288.0" r="6.05" fill="#000"/>
<circle cx="974.0" cy="237.0" r="6.05" fill="#fff"/>
<circle cx="977.5" cy="186.0" r="6.05" fill="#000"/>
<circle cx="986.2" cy="556.0" r="6.05" fill="#fff"/>
<circle cx="993.0" cy="574.0" r="6.05" fill="#fff"/>
<circle cx="994.4" cy="577.5" r="6.05" fill="#fff"/>
<circle cx="1005.0" cy="316.0" r="6.05" fill="#000"/>
<circle cx="1009.4" cy="288.8" r="6.05" fill="#000"/>
<circle cx="1012.5" cy="288.0" r="6.05" fill="#000"/>
<circle cx="1015.0" cy="318.8" r="6.05" fill="#000"/>
<circle cx="1023.0" cy="339.0" r="6.05" fill="#fff"/>
<circle cx="1024.5" cy="366.0" r="6.05" fill="#fff"/>
<circle cx="1039.8" cy="565.5" r="6.05" fill="#000"/>
<circle cx="1042.8" cy="566.5" r="6.05" fill="#000"/>
<circle cx="1055.6" cy="613.0" r="6.05" fill="#fff"/>
<circle cx="1059.8" cy="616.0" r="6.05" fill="#fff"/>
<circle cx="1065.0" cy="606.0" r="6.05" fill="#fff"/>
<circle cx="1072.5" cy="602.5" r="6.05" fill="#000"/>
<circle cx="1075.6" cy="607.0" r="6.05" fill="#000"/>
<circle cx="1081.0" cy="592.0" r="6.05" fill="#fff"/>
<circle cx="1083.8" cy="603.8" r="6.05" fill="#fff"/>
<circle cx="1087.0" cy="607.5" r="6.05" fill="#000"/>
<circle cx="1090.0" cy="596.0" r="6.05" fill="#000"/>
<circle cx="1095.6" cy="603.8" r="6.05" fill="#fff"/>
<circle cx="1098.5" cy="601.0" r="6.05" fill="#fff"/>
<circle cx="1102.0" cy="585.6" r="6.05" fill="#fff"/>
<circle cx="1105.6" cy="578.8" r="6.05" fill="#000"/>
<circle cx="1110.0" cy="586.0" r="6.05" fill="#fff"/>
<circle cx="1117.5" cy="580.0" r="6.05" fill="#000"/>
<circle cx="1121.5" cy="573.8" r="6.05" fill="#000"/>
<circle cx="1125.3" cy="590.3" r="6.05" fill="#000"/>
<circle cx="1132.5" cy="584.0" r="6.05" fill="#fff"/>
<circle cx="1135.3" cy="575.8" r="6.05" fill="#fff"/>
<circle cx="1137.5" cy="596.0" r="6.05" fill="#fff"/>
<circle cx="1143.9" cy="594.0" r="6.05" fill="#000"/>
<circle cx="1147.5" cy="585.0" r="6.05" fill="#000"/>
<circle cx="1156.5" cy="607.8" r="6.05" fill="#fff"/>
<circle cx="1158.6" cy="614.0" r="6.05" fill="#fff"/>
<circle cx="1168.0" cy="584.0" r="6.05" fill="#000"/>
<circle cx="1172.5" cy="589.5" r="6.05" fill="#000"/>
<circle cx="1172.5" cy="597.5" r="6.05" fill="#000"/>
<circle cx="1181.0" cy="596.0" r="6.05" fill="#fff"/>
<circle cx="1186.0" cy="594.0" r="6.05" fill="#000"/>
<circle cx="1191.0" cy="605.0" r="6.05" fill="#000"/>
<circle cx="1195.0" cy="590.0" r="6.05" fill="#fff"/>
<circle cx="1200.0" cy="589.0" r="6.05" fill="#000"/>
<circle cx="1202.0" cy="596.0" r="6.05" fill="#fff"/>
<circle cx="1205.0" cy="598.8" r="6.05" fill="#000"/>
</g>
<g stroke="#000" stroke-width="2" fill="none">
<line x1="96" y1="116.1" x2="96" y2="630.2"/>
<line x1="79" y1="629.2" x2="96" y2="629.2"/>
<line x1="79" y1="572.3" x2="96" y2="572.3"/>
<line x1="79" y1="515.4" x2="96" y2="515.4"/>
<line x1="79" y1="458.5" x2="96" y2="458.5"/>
<line x1="79" y1="401.6" x2="96" y2="401.6"/>
<line x1="79" y1="344.7" x2="96" y2="344.7"/>
<line x1="79" y1="287.8" x2="96" y2="287.8"/>
<line x1="79" y1="230.9" x2="96" y2="230.9"/>
<line x1="79" y1="174.0" x2="96" y2="174.0"/>
<line x1="79" y1="117.1" x2="96" y2="117.1"/>
</g>
<g font-size="26.8" text-anchor="middle" fill="#000" stroke="#000" stroke-width="0.45">
<text transform="translate(57.5,629.2) rotate(-90)">7</text>
<text transform="translate(57.5,572.3) rotate(-90)">8</text>
<text transform="translate(57.5,515.4) rotate(-90)">9</text>
<text transform="translate(57.5,458.5) rotate(-90)">10</text>
<text transform="translate(57.5,401.6) rotate(-90)">11</text>
<text transform="translate(57.5,344.7) rotate(-90)">12</text>
<text transform="translate(57.5,287.8) rotate(-90)">13</text>
<text transform="translate(57.5,230.9) rotate(-90)">14</text>
<text transform="translate(57.5,174.0) rotate(-90)">15</text>
<text transform="translate(57.5,117.1) rotate(-90)">16</text>
</g>
<text x="626.3" y="67.5" font-size="26.8" text-anchor="middle" fill="#000" stroke="#000" stroke-width="0.45">frlO [3349761,3351029,−1]</text>
<g font-size="26.8" fill="#00ff00" stroke="#00ff00" stroke-width="0.45">
<text x="887" y="66.3">clusters</text>
<text x="967.5" y="101.3">A1741 size: 7</text>
<text x="967.5" y="133">B593 size: 7</text>
<text x="967.5" y="165">C48 size: 196</text>
</g>
<g stroke="#00ff00" stroke-width="3.4" fill="none">
<line x1="893" y1="92" x2="944.5" y2="92" stroke-dasharray="3.4 10.1"/>
<line x1="893" y1="124.5" x2="944.5" y2="124.5" stroke-dasharray="13.5 13.5"/>
<line x1="893" y1="156.3" x2="944.5" y2="156.3"/>
</g>
<g stroke="#000" stroke-width="1.15">
<circle cx="138.8" cy="686" r="3.25" fill="#000"/>
<circle cx="144.0" cy="686" r="3.25" fill="#000"/>
<circle cx="144.6" cy="686" r="3.25" fill="#000"/>
<circle cx="148.0" cy="686" r="3.25" fill="#fff"/>
<circle cx="148.8" cy="686" r="3.25" fill="#fff"/>
<circle cx="154.0" cy="686" r="3.25" fill="#000"/>
<circle cx="157.0" cy="686" r="3.25" fill="#000"/>
<circle cx="159.5" cy="686" r="3.25" fill="#000"/>
<circle cx="166.5" cy="686" r="3.25" fill="#fff"/>
<circle cx="168.5" cy="686" r="3.25" fill="#fff"/>
<circle cx="170.5" cy="686" r="3.25" fill="#fff"/>
<circle cx="175.5" cy="686" r="3.25" fill="#000"/>
<circle cx="178.5" cy="686" r="3.25" fill="#000"/>
<circle cx="184.0" cy="686" r="3.25" fill="#fff"/>
<circle cx="186.0" cy="686" r="3.25" fill="#fff"/>
<circle cx="188.0" cy="686" r="3.25" fill="#fff"/>
<circle cx="194.0" cy="686" r="3.25" fill="#000"/>
<circle cx="199.5" cy="686" r="3.25" fill="#000"/>
<circle cx="206.2" cy="686" r="3.25" fill="#fff"/>
<circle cx="210.5" cy="686" r="3.25" fill="#fff"/>
<circle cx="215.5" cy="686" r="3.25" fill="#fff"/>
<circle cx="221.5" cy="686" r="3.25" fill="#000"/>
<circle cx="225.5" cy="686" r="3.25" fill="#000"/>
<circle cx="233.5" cy="686" r="3.25" fill="#fff"/>
<circle cx="236.0" cy="686" r="3.25" fill="#fff"/>
<circle cx="239.4" cy="686" r="3.25" fill="#fff"/>
<circle cx="250.0" cy="686" r="3.25" fill="#000"/>
<circle cx="254.0" cy="686" r="3.25" fill="#000"/>
<circle cx="263.0" cy="686" r="3.25" fill="#fff"/>
<circle cx="265.6" cy="686" r="3.25" fill="#fff"/>
<circle cx="277.0" cy="686" r="3.25" fill="#000"/>
<circle cx="278.6" cy="686" r="3.25" fill="#000"/>
<circle cx="283.0" cy="686" r="3.25" fill="#000"/>
<circle cx="291.0" cy="686" r="3.25" fill="#fff"/>
<circle cx="294.0" cy="686" r="3.25" fill="#fff"/>
<circle cx="296.5" cy="686" r="3.25" fill="#fff"/>
<circle cx="300.0" cy="686" r="3.25" fill="#000"/>
<circle cx="303.0" cy="686" r="3.25" fill="#000"/>
<circle cx="310.0" cy="686" r="3.25" fill="#fff"/>
<circle cx="313.0" cy="686" r="3.25" fill="#fff"/>
<circle cx="317.4" cy="686" r="3.25" fill="#fff"/>
<circle cx="327.0" cy="686" r="3.25" fill="#000"/>
<circle cx="330.6" cy="686" r="3.25" fill="#000"/>
<circle cx="334.4" cy="686" r="3.25" fill="#000"/>
<circle cx="338.6" cy="686" r="3.25" fill="#fff"/>
<circle cx="342.4" cy="686" r="3.25" fill="#fff"/>
<circle cx="348.0" cy="686" r="3.25" fill="#fff"/>
<circle cx="356.0" cy="686" r="3.25" fill="#000"/>
<circle cx="361.0" cy="686" r="3.25" fill="#fff"/>
<circle cx="363.0" cy="686" r="3.25" fill="#fff"/>
<circle cx="366.4" cy="686" r="3.25" fill="#fff"/>
<circle cx="370.6" cy="686" r="3.25" fill="#000"/>
<circle cx="373.6" cy="686" r="3.25" fill="#000"/>
<circle cx="378.0" cy="686" r="3.25" fill="#fff"/>
<circle cx="380.4" cy="686" r="3.25" fill="#fff"/>
<circle cx="383.6" cy="686" r="3.25" fill="#fff"/>
<circle cx="386.0" cy="686" r="3.25" fill="#000"/>
<circle cx="388.8" cy="686" r="3.25" fill="#fff"/>
<circle cx="390.5" cy="686" r="3.25" fill="#000"/>
<circle cx="392.0" cy="686" r="3.25" fill="#fff"/>
<circle cx="395.0" cy="686" r="3.25" fill="#000"/>
<circle cx="397.0" cy="686" r="3.25" fill="#fff"/>
<circle cx="399.0" cy="686" r="3.25" fill="#000"/>
<circle cx="400.5" cy="686" r="3.25" fill="#fff"/>
<circle cx="403.0" cy="686" r="3.25" fill="#000"/>
<circle cx="405.0" cy="686" r="3.25" fill="#fff"/>
<circle cx="407.5" cy="686" r="3.25" fill="#000"/>
<circle cx="408.7" cy="686" r="3.25" fill="#fff"/>
<circle cx="410.0" cy="686" r="3.25" fill="#000"/>
<circle cx="412.5" cy="686" r="3.25" fill="#fff"/>
<circle cx="414.0" cy="686" r="3.25" fill="#000"/>
<circle cx="416.5" cy="686" r="3.25" fill="#fff"/>
<circle cx="419.0" cy="686" r="3.25" fill="#000"/>
<circle cx="420.6" cy="686" r="3.25" fill="#fff"/>
<circle cx="422.5" cy="686" r="3.25" fill="#000"/>
<circle cx="425.6" cy="686" r="3.25" fill="#fff"/>
<circle cx="427.0" cy="686" r="3.25" fill="#000"/>
<circle cx="430.0" cy="686" r="3.25" fill="#fff"/>
<circle cx="431.0" cy="686" r="3.25" fill="#000"/>
<circle cx="437.5" cy="686" r="3.25" fill="#fff"/>
<circle cx="440.6" cy="686" r="3.25" fill="#000"/>
<circle cx="442.0" cy="686" r="3.25" fill="#fff"/>
<circle cx="445.0" cy="686" r="3.25" fill="#000"/>
<circle cx="448.0" cy="686" r="3.25" fill="#fff"/>
<circle cx="454.4" cy="686" r="3.25" fill="#000"/>
<circle cx="459.4" cy="686" r="3.25" fill="#000"/>
<circle cx="463.0" cy="686" r="3.25" fill="#000"/>
<circle cx="464.4" cy="686" r="3.25" fill="#fff"/>
<circle cx="470.0" cy="686" r="3.25" fill="#000"/>
<circle cx="472.8" cy="686" r="3.25" fill="#fff"/>
<circle cx="474.4" cy="686" r="3.25" fill="#000"/>
<circle cx="475.5" cy="686" r="3.25" fill="#fff"/>
<circle cx="478.6" cy="686" r="3.25" fill="#000"/>
<circle cx="481.0" cy="686" r="3.25" fill="#fff"/>
<circle cx="486.6" cy="686" r="3.25" fill="#fff"/>
<circle cx="488.6" cy="686" r="3.25" fill="#000"/>
<circle cx="490.4" cy="686" r="3.25" fill="#fff"/>
<circle cx="492.4" cy="686" r="3.25" fill="#000"/>
<circle cx="494.0" cy="686" r="3.25" fill="#fff"/>
<circle cx="498.0" cy="686" r="3.25" fill="#000"/>
<circle cx="501.0" cy="686" r="3.25" fill="#fff"/>
<circle cx="505.0" cy="686" r="3.25" fill="#000"/>
<circle cx="508.5" cy="686" r="3.25" fill="#fff"/>
<circle cx="511.0" cy="686" r="3.25" fill="#fff"/>
<circle cx="514.4" cy="686" r="3.25" fill="#000"/>
<circle cx="516.0" cy="686" r="3.25" fill="#fff"/>
<circle cx="520.0" cy="686" r="3.25" fill="#000"/>
<circle cx="523.0" cy="686" r="3.25" fill="#fff"/>
<circle cx="524.6" cy="686" r="3.25" fill="#000"/>
<circle cx="526.6" cy="686" r="3.25" fill="#fff"/>
<circle cx="528.5" cy="686" r="3.25" fill="#000"/>
<circle cx="531.0" cy="686" r="3.25" fill="#000"/>
<circle cx="535.0" cy="686" r="3.25" fill="#fff"/>
<circle cx="536.5" cy="686" r="3.25" fill="#fff"/>
<circle cx="540.0" cy="686" r="3.25" fill="#fff"/>
<circle cx="543.0" cy="686" r="3.25" fill="#000"/>
<circle cx="547.0" cy="686" r="3.25" fill="#000"/>
<circle cx="551.0" cy="686" r="3.25" fill="#000"/>
<circle cx="557.4" cy="686" r="3.25" fill="#fff"/>
<circle cx="561.0" cy="686" r="3.25" fill="#fff"/>
<circle cx="565.6" cy="686" r="3.25" fill="#fff"/>
<circle cx="570.0" cy="686" r="3.25" fill="#000"/>
<circle cx="573.0" cy="686" r="3.25" fill="#000"/>
<circle cx="576.0" cy="686" r="3.25" fill="#fff"/>
<circle cx="579.4" cy="686" r="3.25" fill="#fff"/>
<circle cx="582.0" cy="686" r="3.25" fill="#fff"/>
<circle cx="585.6" cy="686" r="3.25" fill="#000"/>
<circle cx="587.0" cy="686" r="3.25" fill="#000"/>
<circle cx="588.0" cy="686" r="3.25" fill="#000"/>
<circle cx="592.0" cy="686" r="3.25" fill="#fff"/>
<circle cx="595.0" cy="686" r="3.25" fill="#fff"/>
<circle cx="598.0" cy="686" r="3.25" fill="#fff"/>
<circle cx="603.5" cy="686" r="3.25" fill="#000"/>
<circle cx="604.4" cy="686" r="3.25" fill="#000"/>
<circle cx="607.0" cy="686" r="3.25" fill="#000"/>
<circle cx="619.0" cy="686" r="3.25" fill="#fff"/>
<circle cx="622.0" cy="686" r="3.25" fill="#fff"/>
<circle cx="623.6" cy="686" r="3.25" fill="#fff"/>
<circle cx="635.6" cy="686" r="3.25" fill="#000"/>
<circle cx="638.0" cy="686" r="3.25" fill="#000"/>
<circle cx="649.4" cy="686" r="3.25" fill="#fff"/>
<circle cx="652.4" cy="686" r="3.25" fill="#fff"/>
<circle cx="655.4" cy="686" r="3.25" fill="#fff"/>
<circle cx="663.0" cy="686" r="3.25" fill="#000"/>
<circle cx="669.6" cy="686" r="3.25" fill="#000"/>
<circle cx="673.6" cy="686" r="3.25" fill="#000"/>
<circle cx="682.0" cy="686" r="3.25" fill="#fff"/>
<circle cx="684.0" cy="686" r="3.25" fill="#fff"/>
<circle cx="685.6" cy="686" r="3.25" fill="#fff"/>
<circle cx="695.0" cy="686" r="3.25" fill="#000"/>
<circle cx="697.0" cy="686" r="3.25" fill="#000"/>
<circle cx="700.0" cy="686" r="3.25" fill="#000"/>
<circle cx="708.4" cy="686" r="3.25" fill="#fff"/>
<circle cx="711.0" cy="686" r="3.25" fill="#fff"/>
<circle cx="714.4" cy="686" r="3.25" fill="#fff"/>
<circle cx="725.4" cy="686" r="3.25" fill="#000"/>
<circle cx="729.4" cy="686" r="3.25" fill="#000"/>
<circle cx="736.0" cy="686" r="3.25" fill="#fff"/>
<circle cx="740.0" cy="686" r="3.25" fill="#fff"/>
<circle cx="742.4" cy="686" r="3.25" fill="#fff"/>
<circle cx="747.6" cy="686" r="3.25" fill="#000"/>
<circle cx="755.6" cy="686" r="3.25" fill="#fff"/>
<circle cx="757.0" cy="686" r="3.25" fill="#fff"/>
<circle cx="760.0" cy="686" r="3.25" fill="#fff"/>
<circle cx="764.0" cy="686" r="3.25" fill="#000"/>
<circle cx="766.0" cy="686" r="3.25" fill="#000"/>
<circle cx="768.0" cy="686" r="3.25" fill="#000"/>
<circle cx="770.0" cy="686" r="3.25" fill="#000"/>
<circle cx="772.0" cy="686" r="3.25" fill="#000"/>
<circle cx="775.0" cy="686" r="3.25" fill="#000"/>
<circle cx="777.5" cy="686" r="3.25" fill="#000"/>
<circle cx="781.0" cy="686" r="3.25" fill="#000"/>
<circle cx="784.8" cy="686" r="3.25" fill="#fff"/>
<circle cx="786.5" cy="686" r="3.25" fill="#fff"/>
<circle cx="790.0" cy="686" r="3.25" fill="#fff"/>
<circle cx="793.0" cy="686" r="3.25" fill="#000"/>
<circle cx="802.0" cy="686" r="3.25" fill="#000"/>
<circle cx="811.0" cy="686" r="3.25" fill="#fff"/>
<circle cx="814.6" cy="686" r="3.25" fill="#fff"/>
<circle cx="832.4" cy="686" r="3.25" fill="#000"/>
<circle cx="834.8" cy="686" r="3.25" fill="#000"/>
<circle cx="844.0" cy="686" r="3.25" fill="#fff"/>
<circle cx="846.4" cy="686" r="3.25" fill="#fff"/>
<circle cx="853.5" cy="686" r="3.25" fill="#000"/>
<circle cx="857.4" cy="686" r="3.25" fill="#000"/>
<circle cx="869.8" cy="686" r="3.25" fill="#fff"/>
<circle cx="873.5" cy="686" r="3.25" fill="#fff"/>
<circle cx="876.0" cy="686" r="3.25" fill="#fff"/>
<circle cx="885.6" cy="686" r="3.25" fill="#000"/>
<circle cx="892.0" cy="686" r="3.25" fill="#000"/>
<circle cx="897.4" cy="686" r="3.25" fill="#fff"/>
<circle cx="900.0" cy="686" r="3.25" fill="#fff"/>
<circle cx="908.0" cy="686" r="3.25" fill="#000"/>
<circle cx="911.0" cy="686" r="3.25" fill="#000"/>
<circle cx="915.6" cy="686" r="3.25" fill="#fff"/>
<circle cx="920.0" cy="686" r="3.25" fill="#fff"/>
<circle cx="922.2" cy="686" r="3.25" fill="#fff"/>
<circle cx="928.0" cy="686" r="3.25" fill="#000"/>
<circle cx="929.8" cy="686" r="3.25" fill="#fff"/>
<circle cx="933.0" cy="686" r="3.25" fill="#fff"/>
<circle cx="935.5" cy="686" r="3.25" fill="#000"/>
<circle cx="937.0" cy="686" r="3.25" fill="#fff"/>
<circle cx="938.0" cy="686" r="3.25" fill="#000"/>
<circle cx="939.5" cy="686" r="3.25" fill="#fff"/>
<circle cx="940.5" cy="686" r="3.25" fill="#000"/>
<circle cx="942.0" cy="686" r="3.25" fill="#fff"/>
<circle cx="952.0" cy="686" r="3.25" fill="#000"/>
<circle cx="957.0" cy="686" r="3.25" fill="#fff"/>
<circle cx="960.0" cy="686" r="3.25" fill="#000"/>
<circle cx="963.8" cy="686" r="3.25" fill="#fff"/>
<circle cx="966.6" cy="686" r="3.25" fill="#000"/>
<circle cx="969.4" cy="686" r="3.25" fill="#fff"/>
<circle cx="972.0" cy="686" r="3.25" fill="#000"/>
<circle cx="974.0" cy="686" r="3.25" fill="#fff"/>
<circle cx="977.5" cy="686" r="3.25" fill="#000"/>
<circle cx="986.2" cy="686" r="3.25" fill="#fff"/>
<circle cx="993.0" cy="686" r="3.25" fill="#fff"/>
<circle cx="994.4" cy="686" r="3.25" fill="#fff"/>
<circle cx="1005.0" cy="686" r="3.25" fill="#000"/>
<circle cx="1009.4" cy="686" r="3.25" fill="#000"/>
<circle cx="1012.5" cy="686" r="3.25" fill="#000"/>
<circle cx="1015.0" cy="686" r="3.25" fill="#000"/>
<circle cx="1023.0" cy="686" r="3.25" fill="#fff"/>
<circle cx="1024.5" cy="686" r="3.25" fill="#fff"/>
<circle cx="1039.8" cy="686" r="3.25" fill="#000"/>
<circle cx="1042.8" cy="686" r="3.25" fill="#000"/>
<circle cx="1055.6" cy="686" r="3.25" fill="#fff"/>
<circle cx="1059.8" cy="686" r="3.25" fill="#fff"/>
<circle cx="1065.0" cy="686" r="3.25" fill="#fff"/>
<circle cx="1072.5" cy="686" r="3.25" fill="#000"/>
<circle cx="1075.6" cy="686" r="3.25" fill="#000"/>
<circle cx="1081.0" cy="686" r="3.25" fill="#fff"/>
<circle cx="1083.8" cy="686" r="3.25" fill="#fff"/>
<circle cx="1087.0" cy="686" r="3.25" fill="#000"/>
<circle cx="1090.0" cy="686" r="3.25" fill="#000"/>
<circle cx="1095.6" cy="686" r="3.25" fill="#fff"/>
<circle cx="1098.5" cy="686" r="3.25" fill="#fff"/>
<circle cx="1102.0" cy="686" r="3.25" fill="#fff"/>
<circle cx="1105.6" cy="686" r="3.25" fill="#000"/>
<circle cx="1110.0" cy="686" r="3.25" fill="#fff"/>
<circle cx="1117.5" cy="686" r="3.25" fill="#000"/>
<circle cx="1121.5" cy="686" r="3.25" fill="#000"/>
<circle cx="1125.3" cy="686" r="3.25" fill="#000"/>
<circle cx="1132.5" cy="686" r="3.25" fill="#fff"/>
<circle cx="1135.3" cy="686" r="3.25" fill="#fff"/>
<circle cx="1137.5" cy="686" r="3.25" fill="#fff"/>
<circle cx="1143.9" cy="686" r="3.25" fill="#000"/>
<circle cx="1147.5" cy="686" r="3.25" fill="#000"/>
<circle cx="1156.5" cy="686" r="3.25" fill="#fff"/>
<circle cx="1158.6" cy="686" r="3.25" fill="#fff"/>
<circle cx="1168.0" cy="686" r="3.25" fill="#000"/>
<circle cx="1172.5" cy="686" r="3.25" fill="#000"/>
<circle cx="1172.5" cy="686" r="3.25" fill="#000"/>
<circle cx="1181.0" cy="686" r="3.25" fill="#fff"/>
<circle cx="1186.0" cy="686" r="3.25" fill="#000"/>
<circle cx="1191.0" cy="686" r="3.25" fill="#000"/>
<circle cx="1195.0" cy="686" r="3.25" fill="#fff"/>
<circle cx="1200.0" cy="686" r="3.25" fill="#000"/>
<circle cx="1202.0" cy="686" r="3.25" fill="#fff"/>
<circle cx="1205.0" cy="686" r="3.25" fill="#000"/>
</g>
<g font-size="13.1" text-anchor="middle" fill="#000" stroke="#000" stroke-width="0.3">
<text transform="translate(144.1,714.6) rotate(-90)">G150</text>
<text transform="translate(150.0,658.0) rotate(-90)">G135</text>
<text transform="translate(158.5,714.6) rotate(-90)">G180</text>
<text transform="translate(170.2,658.0) rotate(-90)">H2O2</text>
<text transform="translate(178.7,714.6) rotate(-90)">Paraq</text>
<text transform="translate(187.7,658.0) rotate(-90)">Oxctl</text>
<text transform="translate(198.4,714.6) rotate(-90)">LBGexp</text>
<text transform="translate(212.4,658.0) rotate(-90)">dia15</text>
<text transform="translate(225.2,714.6) rotate(-90)">Diami</text>
<text transform="translate(237.9,658.0) rotate(-90)">dia5</text>
<text transform="translate(253.7,714.6) rotate(-90)">C90</text>
<text transform="translate(265.9,658.0) rotate(-90)">C30</text>
<text transform="translate(281.2,714.6) rotate(-90)">Cold</text>
<text transform="translate(295.5,658.0) rotate(-90)">LPh</text>
<text transform="translate(303.1,714.6) rotate(-90)">HPh</text>
<text transform="translate(315.1,658.0) rotate(-90)">aero</text>
<text transform="translate(332.3,714.6) rotate(-90)">nit</text>
<text transform="translate(344.6,658.0) rotate(-90)">ferm</text>
<text transform="translate(357.6,714.6) rotate(-90)">GM+150</text>
<text transform="translate(365.1,658.0) rotate(-90)">M9−tran</text>
<text transform="translate(373.8,714.6) rotate(-90)">MG+150</text>
<text transform="translate(382.3,658.0) rotate(-90)">MG+120</text>
<text transform="translate(387.6,714.6) rotate(-90)">MG+90</text>
<text transform="translate(390.4,658.0) rotate(-90)">MG+60</text>
<text transform="translate(392.1,714.6) rotate(-90)">MG+45</text>
<text transform="translate(393.6,658.0) rotate(-90)">MG+25</text>
<text transform="translate(396.6,714.6) rotate(-90)">MG+15</text>
<text transform="translate(398.6,658.0) rotate(-90)">MG+10</text>
<text transform="translate(400.6,714.6) rotate(-90)">MG+5</text>
<text transform="translate(402.1,658.0) rotate(-90)">MG+t5</text>
<text transform="translate(404.6,714.6) rotate(-90)">MG+90</text>
<text transform="translate(406.6,658.0) rotate(-90)">MG+60</text>
<text transform="translate(409.1,714.6) rotate(-90)">MG+45</text>
<text transform="translate(410.3,658.0) rotate(-90)">MG+25</text>
<text transform="translate(411.6,714.6) rotate(-90)">MG+15</text>
<text transform="translate(414.1,658.0) rotate(-90)">MG+10</text>
<text transform="translate(415.6,714.6) rotate(-90)">MG+5</text>
<text transform="translate(418.1,658.0) rotate(-90)">MG+t5</text>
<text transform="translate(420.6,714.6) rotate(-90)">MG+90</text>
<text transform="translate(422.2,658.0) rotate(-90)">MG+60</text>
<text transform="translate(424.1,714.6) rotate(-90)">MG+45</text>
<text transform="translate(427.2,658.0) rotate(-90)">MG+25</text>
<text transform="translate(428.6,714.6) rotate(-90)">MG+15</text>
<text transform="translate(431.6,658.0) rotate(-90)">MG+10</text>
<text transform="translate(432.6,714.6) rotate(-90)">MG−0.1</text>
<text transform="translate(439.1,658.0) rotate(-90)">MG−0.2</text>
<text transform="translate(442.2,714.6) rotate(-90)">MG−0.1</text>
<text transform="translate(443.6,658.0) rotate(-90)">MG−0.2</text>
<text transform="translate(446.6,714.6) rotate(-90)">UNK1</text>
<text transform="translate(449.6,658.0) rotate(-90)">Fru</text>
<text transform="translate(460.6,714.6) rotate(-90)">Glucon</text>
<text transform="translate(466.0,658.0) rotate(-90)">GM−0.2</text>
<text transform="translate(471.6,714.6) rotate(-90)">GM−0.1</text>
<text transform="translate(474.4,658.0) rotate(-90)">GM+5</text>
<text transform="translate(476.0,714.6) rotate(-90)">GM+10</text>
<text transform="translate(477.1,658.0) rotate(-90)">GM+15</text>
<text transform="translate(480.2,714.6) rotate(-90)">GM+25</text>
<text transform="translate(485.4,658.0) rotate(-90)">GM+45</text>
<text transform="translate(490.2,714.6) rotate(-90)">GM+60</text>
<text transform="translate(492.0,658.0) rotate(-90)">GM+90</text>
<text transform="translate(494.0,714.6) rotate(-90)">GM+120</text>
<text transform="translate(495.6,658.0) rotate(-90)">GM+15</text>
<text transform="translate(499.6,714.6) rotate(-90)">GM+25</text>
<text transform="translate(502.6,658.0) rotate(-90)">GM+45</text>
<text transform="translate(506.6,714.6) rotate(-90)">GM+120</text>
<text transform="translate(511.4,658.0) rotate(-90)">GM+150</text>
<text transform="translate(516.0,714.6) rotate(-90)">GM+90</text>
<text transform="translate(517.6,658.0) rotate(-90)">GM+60</text>
<text transform="translate(521.6,714.6) rotate(-90)">GM+25</text>
<text transform="translate(524.6,658.0) rotate(-90)">GM+45</text>
<text transform="translate(526.2,714.6) rotate(-90)">GM+5</text>
<text transform="translate(528.2,658.0) rotate(-90)">GM+10</text>
<text transform="translate(531.4,714.6) rotate(-90)">GM+15</text>
<text transform="translate(538.8,658.0) rotate(-90)">M9−exp</text>
<text transform="translate(548.6,714.6) rotate(-90)">M/G</text>
<text transform="translate(563.0,658.0) rotate(-90)">Mal</text>
<text transform="translate(573.1,714.6) rotate(-90)">Fru</text>
<text transform="translate(580.8,658.0) rotate(-90)">Glu</text>
<text transform="translate(588.5,714.6) rotate(-90)">SMM</text>
<text transform="translate(596.6,658.0) rotate(-90)">BMM</text>
<text transform="translate(606.6,714.6) rotate(-90)">Heat</text>
<text transform="translate(623.2,658.0) rotate(-90)">Etha</text>
<text transform="translate(638.4,714.6) rotate(-90)">Salt</text>
<text transform="translate(654.0,658.0) rotate(-90)">Gly</text>
<text transform="translate(670.4,714.6) rotate(-90)">HiTm</text>
<text transform="translate(685.5,658.0) rotate(-90)">HiOs</text>
<text transform="translate(699.0,714.6) rotate(-90)">S1</text>
<text transform="translate(712.9,658.0) rotate(-90)">S2</text>
<text transform="translate(729.0,714.6) rotate(-90)">S3</text>
<text transform="translate(741.1,658.0) rotate(-90)">S4</text>
<text transform="translate(749.2,714.6) rotate(-90)">S3</text>
<text transform="translate(759.2,658.0) rotate(-90)">S5</text>
<text transform="translate(773.3,714.6) rotate(-90)">S6</text>
<text transform="translate(788.7,658.0) rotate(-90)">S7</text>
<text transform="translate(799.1,714.6) rotate(-90)">S8</text>
<text transform="translate(814.4,658.0) rotate(-90)">S6</text>
<text transform="translate(835.2,714.6) rotate(-90)">BT</text>
<text transform="translate(846.9,658.0) rotate(-90)">B36</text>
<text transform="translate(857.1,714.6) rotate(-90)">B60</text>
<text transform="translate(874.7,658.0) rotate(-90)">LoTm</text>
<text transform="translate(890.4,714.6) rotate(-90)">Pyr</text>
<text transform="translate(900.4,658.0) rotate(-90)">G/S</text>
<text transform="translate(911.1,714.6) rotate(-90)">Glucon</text>
<text transform="translate(920.9,658.0) rotate(-90)">SMMPr</text>
<text transform="translate(929.6,714.6) rotate(-90)">T−5.40H</text>
<text transform="translate(933.0,658.0) rotate(-90)">T−4.40H</text>
<text transform="translate(937.1,714.6) rotate(-90)">T−3.40H</text>
<text transform="translate(938.6,658.0) rotate(-90)">T−2.40H</text>
<text transform="translate(939.6,714.6) rotate(-90)">T−1.40H</text>
<text transform="translate(941.1,658.0) rotate(-90)">T−1.10H</text>
<text transform="translate(942.1,714.6) rotate(-90)">T−0.40H</text>
<text transform="translate(943.6,658.0) rotate(-90)">T0.0H</text>
<text transform="translate(953.6,714.6) rotate(-90)">T0.30H</text>
<text transform="translate(958.6,658.0) rotate(-90)">T1.0H</text>
<text transform="translate(961.6,714.6) rotate(-90)">T1.30H</text>
<text transform="translate(965.4,658.0) rotate(-90)">T2.0H</text>
<text transform="translate(968.2,714.6) rotate(-90)">T2.30H</text>
<text transform="translate(971.0,658.0) rotate(-90)">T3.0H</text>
<text transform="translate(973.6,714.6) rotate(-90)">T3.30H</text>
<text transform="translate(975.6,658.0) rotate(-90)">T4.0H</text>
<text transform="translate(979.1,714.6) rotate(-90)">T5.0H</text>
<text transform="translate(992.9,658.0) rotate(-90)">M9−stat</text>
<text transform="translate(1012.1,714.6) rotate(-90)">BC</text>
<text transform="translate(1025.4,658.0) rotate(-90)">Sw</text>
<text transform="translate(1043.0,714.6) rotate(-90)">LPhT</text>
<text transform="translate(1061.8,658.0) rotate(-90)">LBGstat</text>
<text transform="translate(1075.7,714.6) rotate(-90)">LBGtran</text>
<text transform="translate(1084.0,658.0) rotate(-90)">M0t45</text>
<text transform="translate(1090.2,714.6) rotate(-90)">M40t45</text>
<text transform="translate(1100.4,658.0) rotate(-90)">Lbtran</text>
<text transform="translate(1107.2,714.6) rotate(-90)">Mt0</text>
<text transform="translate(1111.7,658.0) rotate(-90)">M40t45</text>
<text transform="translate(1123.1,714.6) rotate(-90)">M40t90</text>
<text transform="translate(1136.8,658.0) rotate(-90)">M0t90</text>
<text transform="translate(1147.4,714.6) rotate(-90)">Lbstat</text>
<text transform="translate(1159.2,658.0) rotate(-90)">BI</text>
<text transform="translate(1172.7,714.6) rotate(-90)">S0</text>
<text transform="translate(1182.7,658.0) rotate(-90)">M0t45</text>
<text transform="translate(1190.2,714.6) rotate(-90)">dia0</text>
<text transform="translate(1196.7,658.0) rotate(-90)">Lbexp</text>
<text transform="translate(1201.7,714.6) rotate(-90)">M9</text>
<text transform="translate(1203.7,658.0) rotate(-90)">Lbexp</text>
<text transform="translate(1206.7,714.6) rotate(-90)">Mt0</text>
</g>
</svg>
</body></html>
